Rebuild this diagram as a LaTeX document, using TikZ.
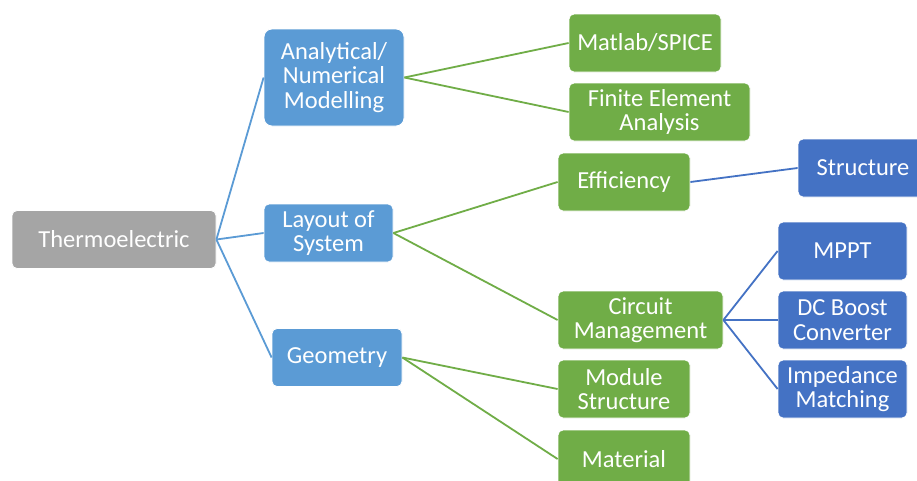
\documentclass[tikz,border=0pt]{standalone}
\usepackage{fontspec}
\setmainfont{Carlito}
\definecolor{grey}{HTML}{A5A5A5}
\definecolor{lblue}{HTML}{5B9BD5}
\definecolor{dblue}{HTML}{4472C4}
\definecolor{lgreen}{HTML}{70AD47}

\begin{document}
\begin{tikzpicture}[x=1pt, y=-1pt, box/.style={rectangle, rounded corners=5, draw=white, line width=0.8pt, text=white, align=center, inner sep=0pt, minimum height=58pt, font=\fontsize{24.5}{24.5}\selectfont}, root/.style={box, fill=grey}, first/.style={box, fill=lblue}, second/.style={box, fill=lgreen}, third/.style={box, fill=dblue}, l1/.style={lblue, line width=1.8pt}, l2/.style={lgreen, line width=1.8pt}, l3/.style={dblue, line width=1.8pt}]
            \clip (0,0) rectangle (917,480);
            \fill[white] (0,0) rectangle (917,480);
            % nodes
            \node[root, minimum width=204pt] (thermo) at (114,239.5) {Thermoelectric};

            \node[first, minimum width=140pt, minimum height=97pt, rounded corners=8] (model) at (334,77.5) {Analytical/\\Numerical\\Modelling};
            \node[first, minimum width=129pt] (layout) at (328.5,233) {Layout of\\System};
            \node[first, minimum width=130pt] (geom) at (337,357.5) {Geometry};

            \node[second, minimum width=152pt] (matlab) at (645,43) {Matlab/SPICE};
            \node[second, minimum width=181pt] (fea) at (659.5,112) {Finite Element\\Analysis};
            \node[second, minimum width=132pt] (eff) at (624,182) {Efficiency};
            \node[second, minimum width=165pt] (circ) at (640.5,320) {Circuit\\Management};
            \node[second, minimum width=132pt] (module) at (624,389) {Module\\Structure};
            \node[second, minimum width=132pt] (mat) at (624,459) {Material};

            \node[third, minimum width=130pt] (struct) at (863,168) {Structure};
            \node[third, minimum width=129pt] (mppt) at (842.5,251) {MPPT};
            \node[third, minimum width=129pt] (boost) at (842.5,320) {DC Boost\\Converter};
            \node[third, minimum width=129pt] (imp) at (842.5,389) {Impedance\\Matching};
            % edges
            \draw [l1] (thermo.east) -- (model.west);
            \draw [l1] (thermo.east) -- (layout.west);
            \draw [l1] (thermo.east) -- (geom.west);

            \draw [l2] (model.east) -- (matlab.west);
            \draw [l2] (model.east) -- (fea.west);
            \draw [l2] (layout.east) -- (eff.west);
            \draw [l2] (layout.east) -- (circ.west);
            \draw [l2] (geom.east) -- (module.west);
            \draw [l2] (geom.east) -- (mat.west);

            \draw [l3] (eff.east) -- (struct.west);
            \draw [l3] (circ.east) -- (mppt.west);
            \draw [l3] (circ.east) -- (boost.west);
            \draw [l3] (circ.east) -- (imp.west);
        \end{tikzpicture}
\end{document}
